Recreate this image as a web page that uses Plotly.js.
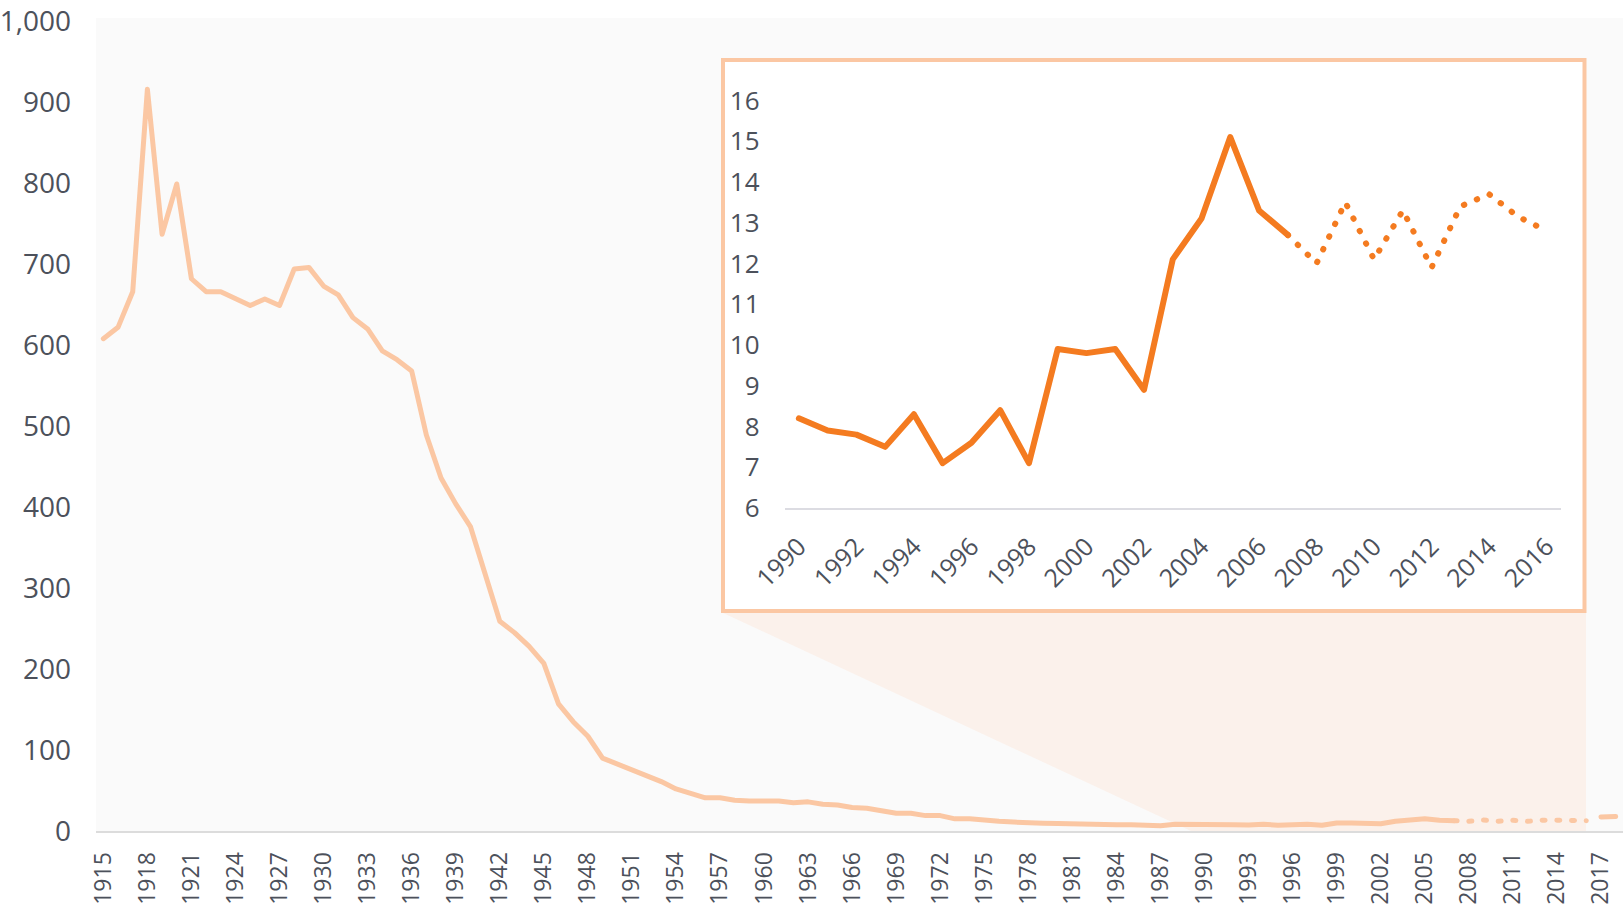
<!DOCTYPE html>
<html>
<head>
<meta charset="utf-8">
<script src="https://cdn.plot.ly/plotly-3.0.1.min.js"></script>
<style>html,body{margin:0;padding:0;background:#fff;}#chart{width:1623px;height:915px;}</style>
</head>
<body>
<div id="chart"></div>
<script>
// ---- data ----
function yearRange(a, b){ const r=[]; for(let y=a;y<=b;y++) r.push(y); return r; }
const histYears = yearRange(1915, 2007);
const histRate = [
  608, 622, 666, 916, 737, 799, 682, 666, 666, 658,
  649, 657, 649, 694, 696, 673, 662, 634, 620, 593,
  582, 568, 489, 436, 404, 376, 317, 259, 245, 228,
  207, 157, 135, 117, 90, 83, 75, 68, 61, 52,
  47, 41, 41, 38, 37, 37, 37, 35, 36, 33,
  32, 29, 28, 25, 22, 22, 19, 19, 15, 15,
  13, 12, 11, 9.6, 9.6, 9.2, 8.5, 7.9, 8.0, 7.8,
  7.8, 7.2, 6.6, 8.4, 7.9,
  8.2, 7.9, 7.8, 7.5, 8.3, 7.1, 7.6, 8.4, 7.1, 9.9,
  9.8, 9.9, 8.9, 12.1, 13.1, 15.1, 13.3, 12.7
];
const estYears = [2007, 2008, 2009, 2010, 2011, 2012, 2013, 2014, 2015, 2016];
const estRate  = [12.7, 12.0, 13.5, 12.1, 13.3, 11.9, 13.4, 13.7, 13.15, 12.8];
const newYears = [2017, 2018];
const newRate  = [17.4, 18.0];
const insetStart = 1990;
const mainTickYears = yearRange(1915, 2018).filter(y => (y - 1915) % 3 === 0);
const insetTickYears = yearRange(1990, 2016).filter(y => (y - 1990) % 2 === 0);
const mainYTicks = [0, 100, 200, 300, 400, 500, 600, 700, 800, 900, 1000];

// ---- geometry helpers ----
const W = 1623, H = 915, L = 96, R = 0, T = 21, B = 84;
const pw = W - L - R, ph = H - T - B;
const px = x => (x - L) / pw;
const py = y => (H - B - y) / ph;

const peach = '#fbc7a3';
const orange = '#f47b20';
const textCol = '#4c515b';
const font = 'Open Sans, Segoe UI, sans-serif';

const insetHistX = histYears.filter(y => y >= insetStart);
const insetHistY = histRate.slice(histYears.indexOf(insetStart));

const traces = [
  {x: histYears, y: histRate, type: 'scatter', mode: 'lines', line: {color: peach, width: 5}, hoverinfo: 'skip'},
  {x: estYears, y: estRate, type: 'scatter', mode: 'lines', line: {color: peach, width: 5, dash: '3px,11.7px'}, hoverinfo: 'skip'},
  {x: newYears, y: newRate, type: 'scatter', mode: 'lines', line: {color: peach, width: 5}, hoverinfo: 'skip'},
  {x: insetHistX, y: insetHistY, xaxis: 'x2', yaxis: 'y2', type: 'scatter', mode: 'lines', line: {color: orange, width: 6}, hoverinfo: 'skip'},
  {x: estYears, y: estRate, xaxis: 'x2', yaxis: 'y2', type: 'scatter', mode: 'lines', line: {color: orange, width: 6, dash: '0.5px,13.5px'}, hoverinfo: 'skip'}
];

const layout = {
  width: W, height: H,
  margin: {l: L, r: R, t: T, b: B},
  paper_bgcolor: '#ffffff',
  plot_bgcolor: 'rgba(0,0,0,0)',
  showlegend: false,
  font: {family: font, color: textCol},
  xaxis: {
    range: [1914.5, 2018.5], domain: [0, 1], anchor: 'y',
    tickmode: 'array', tickvals: mainTickYears, ticktext: mainTickYears.map(String),
    tickangle: -90, tickfont: {size: 23, color: textCol, family: font},
    showgrid: false, zeroline: false, showline: true, linecolor: '#dcdcdc', linewidth: 2,
    ticks: '', ticklabelstandoff: 10, ticklabeloverflow: 'allow', fixedrange: true
  },
  yaxis: {
    range: [0, 1000.3], domain: [0, 1], anchor: 'x',
    tickmode: 'array', tickvals: mainYTicks, ticktext: mainYTicks.map(v => v.toLocaleString('en-US')),
    tickfont: {size: 28, color: textCol, family: font},
    showgrid: false, zeroline: false, showline: false, ticks: '', ticklabelstandoff: 24,
    ticklabeloverflow: 'allow', fixedrange: true
  },
  xaxis2: {
    range: [1989.5, 2016.5], domain: [px(784.5), px(1561)], anchor: 'y2',
    tickmode: 'array', tickvals: insetTickYears, ticktext: insetTickYears.map(String),
    tickangle: -45, tickfont: {size: 25, color: textCol, family: font},
    showgrid: false, zeroline: false, showline: true, linecolor: '#dcdce2', linewidth: 2,
    ticks: '', ticklabelstandoff: 12, ticklabeloverflow: 'allow', fixedrange: true
  },
  yaxis2: {
    range: [6, 16], domain: [py(508), py(100.4)], anchor: 'x2', dtick: 1,
    tickfont: {size: 26, color: textCol, family: font},
    showgrid: false, zeroline: false, showline: false, ticks: '', ticklabelstandoff: 24,
    ticklabeloverflow: 'allow', fixedrange: true
  },
  shapes: [
    {type: 'rect', xref: 'paper', yref: 'paper', x0: 0, x1: 1, y0: 0, y1: py(18), fillcolor: '#fafafa', line: {width: 0}, layer: 'below'},
    {type: 'path', xref: 'paper', yref: 'paper', layer: 'below', fillcolor: '#fbf1eb', line: {width: 0},
     path: `M ${px(721)} ${py(612)} L ${px(1191)} ${py(831)} L ${px(1586)} ${py(831)} L ${px(1586)} ${py(612)} Z`},
    {type: 'rect', xref: 'paper', yref: 'paper', layer: 'below', x0: px(723), x1: px(1584.5), y0: py(611), y1: py(60),
     fillcolor: '#ffffff', line: {color: peach, width: 4}}
  ]
};

Plotly.newPlot('chart', traces, layout, {displayModeBar: false, staticPlot: true}).then(() => {
  document.querySelectorAll('.scatterlayer .js-line').forEach(p => {
    p.style.strokeLinecap = 'round';
    p.style.strokeLinejoin = 'round';
  });
});
</script>
</body>
</html>
